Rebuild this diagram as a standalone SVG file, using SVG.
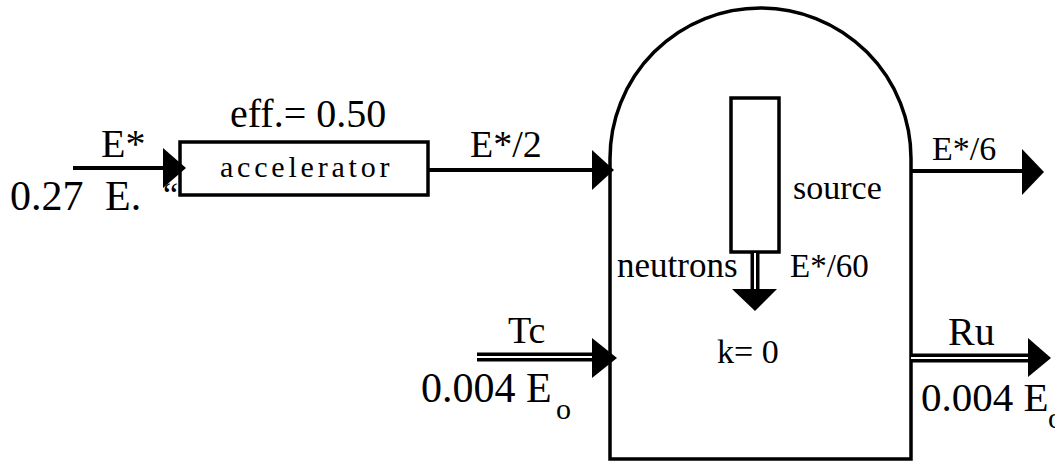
<svg xmlns="http://www.w3.org/2000/svg" width="1055" height="462" viewBox="0 0 1055 462">
<style>
text{font-family:"Liberation Serif",Tinos,"DejaVu Serif","Noto Serif",serif;fill:#000}
.ln{stroke:#000;stroke-width:4;fill:none}
.dbl{stroke:#000;stroke-width:9;fill:none}
.gap{stroke:#fff;stroke-width:2;fill:none}
.shape{stroke:#000;stroke-width:3.5;fill:#fff}
.head{fill:#000}
</style>
<rect width="1055" height="462" fill="#fff"/>
<g id="reactor">
<path class="shape" d="M610,459 L610,158.5 A150.5,150.5 0 0 1 911,158.5 L911,459 Z"/>
<text x="717" y="363" font-size="34">k= 0</text>
</g>
<g id="source">
<rect class="shape" x="731" y="98" width="48" height="154"/>
<text x="793" y="199" font-size="34">source</text>
</g>
<g id="accelerator">
<rect class="shape" x="180" y="142" width="248" height="53"/>
<text x="220" y="177" font-size="30" letter-spacing="3.8">accelerator</text>
<text x="230" y="127" font-size="40">eff.= 0.50</text>
</g>
<g id="connectors">
<line class="ln" x1="73" y1="168" x2="166" y2="168"/>
<polygon class="head" points="163,148 186,168 163,188"/>
<line class="ln" x1="428" y1="170" x2="594" y2="170"/>
<polygon class="head" points="592,150 614,170 592,190"/>
<line class="ln" x1="911" y1="171" x2="1024" y2="171"/>
<polygon class="head" points="1022,149 1044,172 1022,195"/>
<line class="dbl" x1="477" y1="357" x2="594" y2="357"/>
<line class="gap" x1="477" y1="357" x2="594" y2="357"/>
<polygon class="head" points="592,338 617,358 592,378"/>
<line class="dbl" x1="911" y1="358" x2="1030" y2="358"/>
<line class="gap" x1="911" y1="358" x2="1030" y2="358"/>
<polygon class="head" points="1028,338 1051,358 1028,377"/>
<line class="dbl" x1="755" y1="252" x2="755" y2="291"/>
<line class="gap" x1="755" y1="253" x2="755" y2="291"/>
<polygon class="head" points="732,289 777,289 755,311"/>
</g>
<g id="labels">
<text x="101" y="157" font-size="40">E*</text>
<text x="10" y="210" font-size="42">0.27<tspan x="105">E.</tspan></text>
<text x="163" y="206" font-size="34">“</text>
<text x="470" y="157" font-size="38">E*/2</text>
<text x="932" y="160" font-size="34">E*/6</text>
<text x="617" y="277" font-size="35">neutrons</text>
<text x="790" y="277" font-size="33">E*/60</text>
<text x="508" y="343" font-size="38">Tc</text>
<text x="421" y="402" font-size="42">0.004 E<tspan x="556" y="419" font-size="30">o</tspan></text>
<text x="921" y="411" font-size="41">0.004 E<tspan x="1048" y="428" font-size="30">o</tspan></text>
<text x="948" y="345" font-size="40">Ru</text>
</g>
</svg>
